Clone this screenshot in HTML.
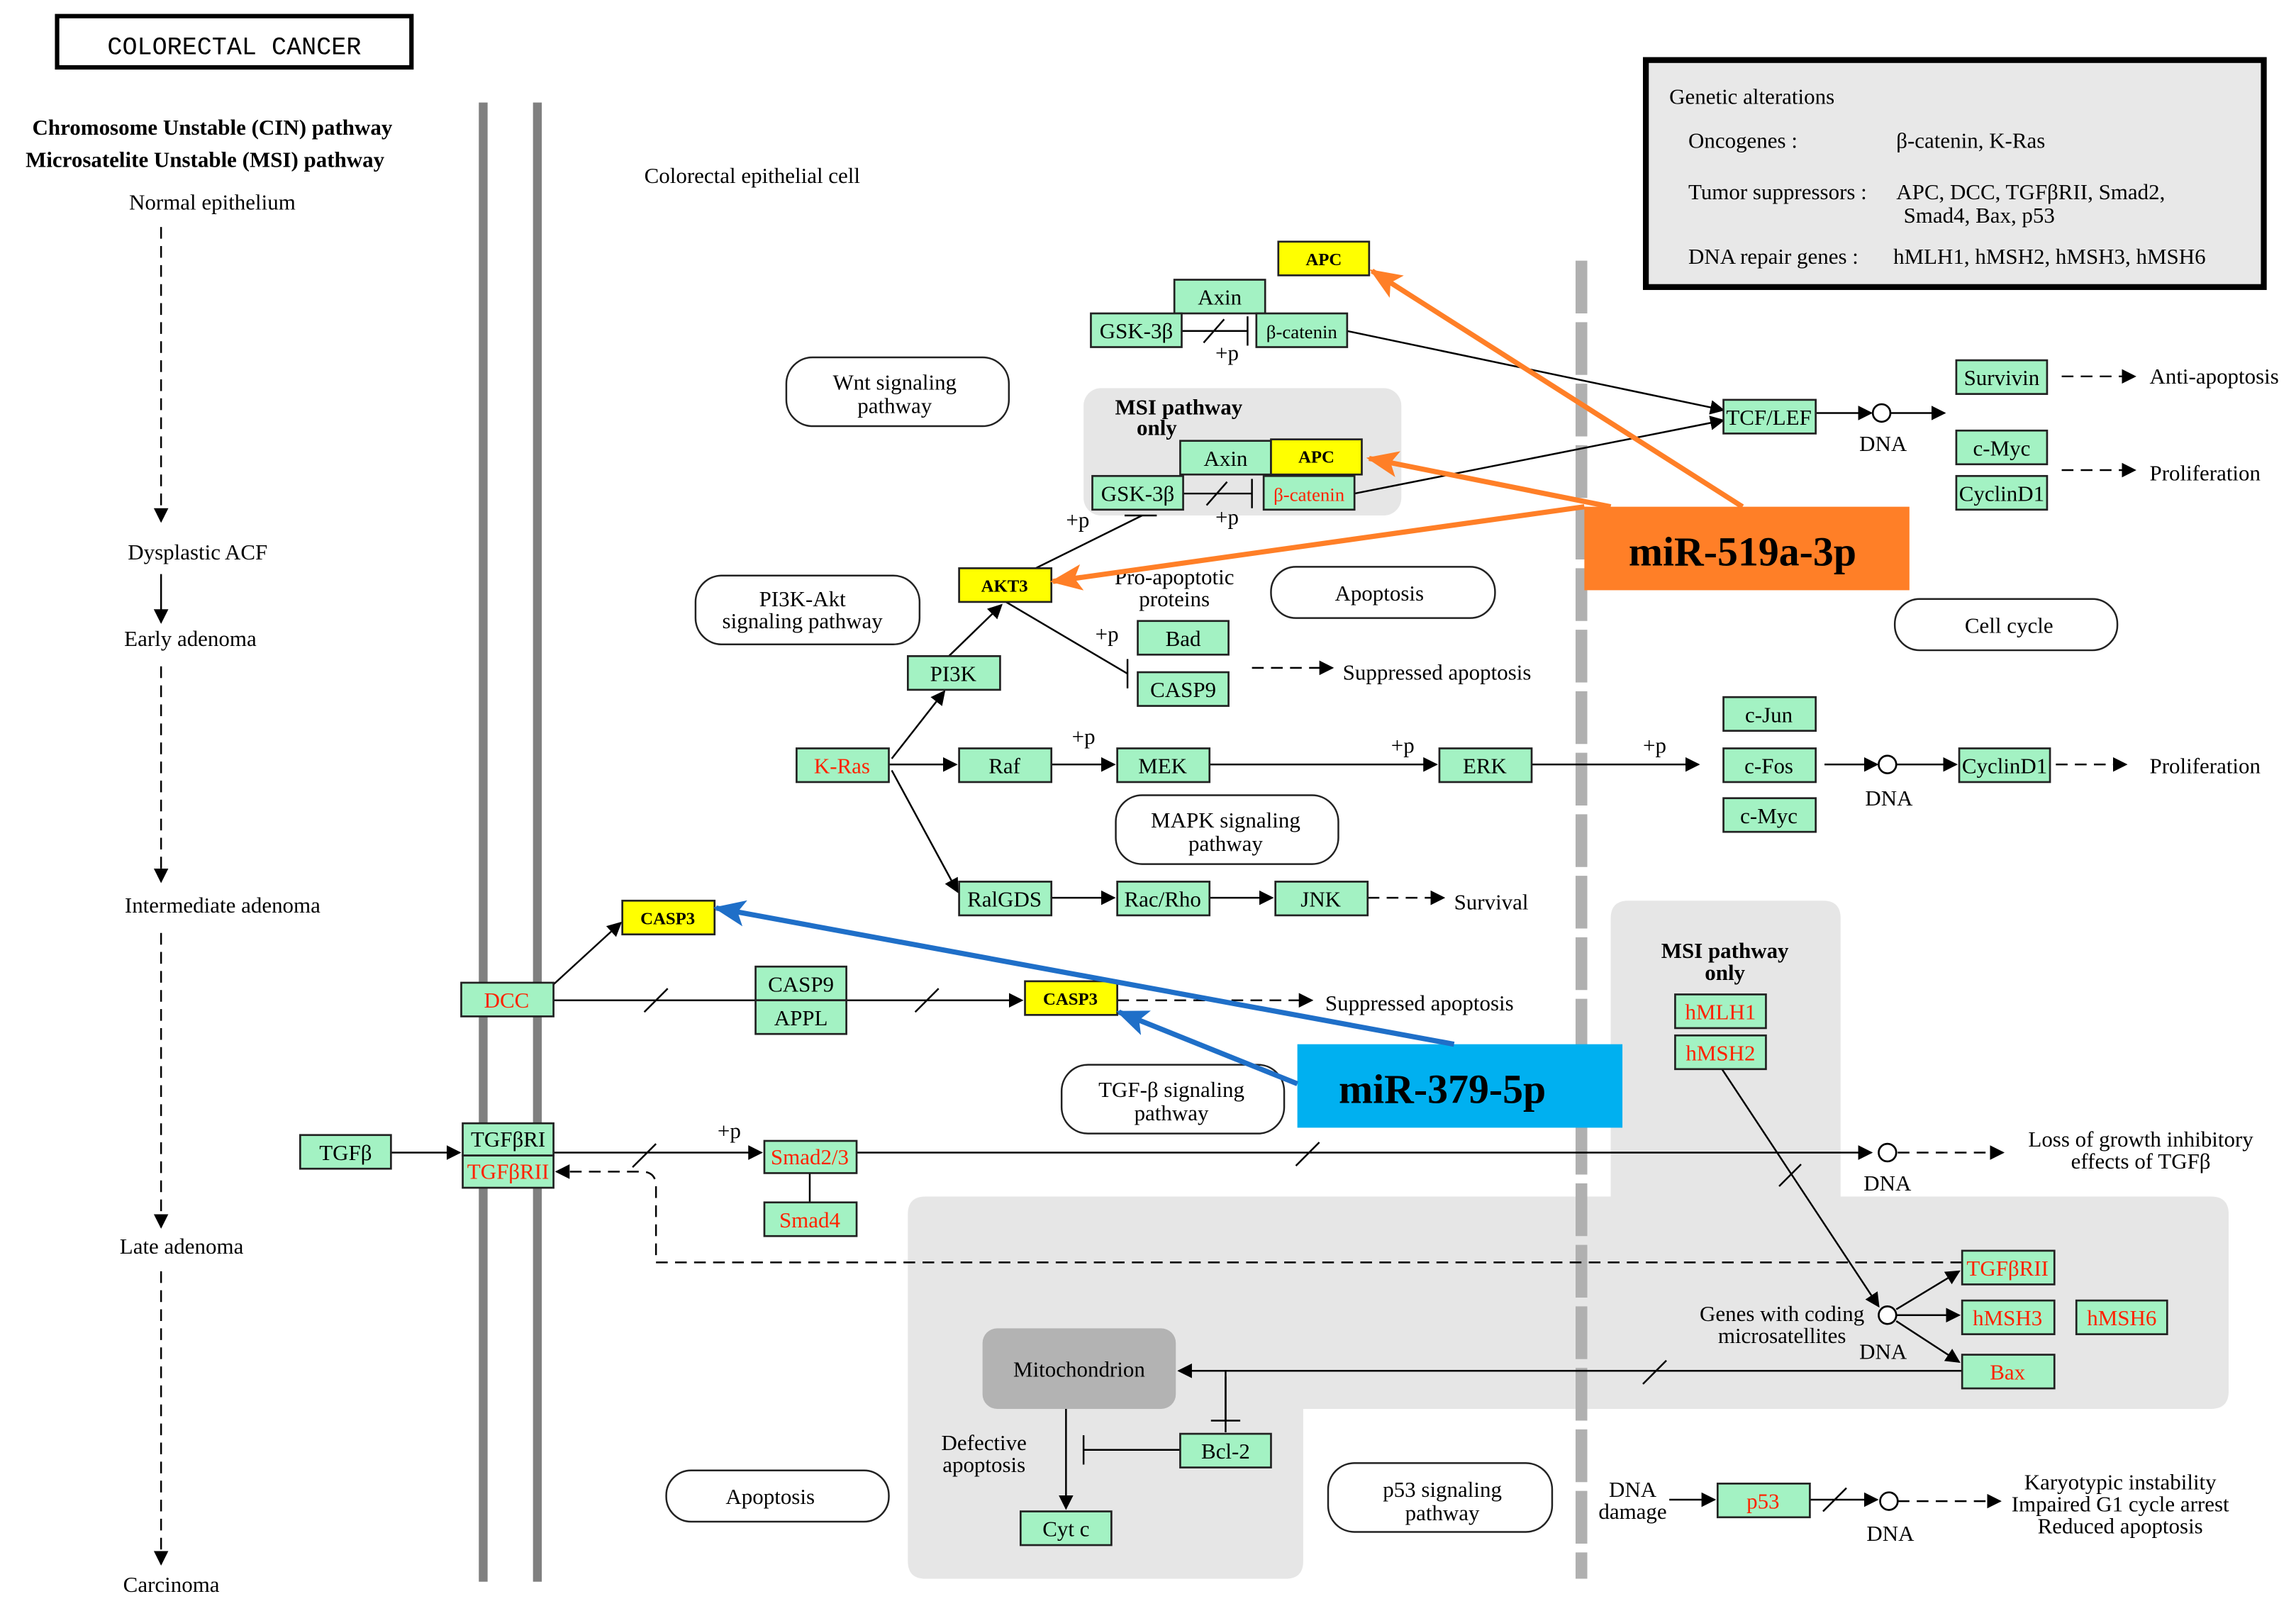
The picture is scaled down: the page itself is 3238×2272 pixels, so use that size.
<!DOCTYPE html>
<html><head><meta charset="utf-8"><style>
html,body{margin:0;padding:0;background:#fff}
svg{display:block}
text{font-family:"Liberation Serif",serif;font-size:15px;fill:#000}
.n{fill:#a3f2c3;stroke:#222;stroke-width:1.3}
.y{fill:#ffff00;stroke:#222;stroke-width:1.3}
.t{text-anchor:middle}
.r{fill:#ff2200}
.b{font-weight:bold}
.p{fill:#fff;stroke:#222;stroke-width:1.2}
.l{stroke:#000;stroke-width:1.2;fill:none}
.d{stroke:#000;stroke-width:1.2;fill:none;stroke-dasharray:8 5}
</style></head><body>
<svg width="3238" height="2272" viewBox="0 0 1568 1100" preserveAspectRatio="none" xmlns="http://www.w3.org/2000/svg">
<defs>
<marker id="a" markerWidth="10" markerHeight="10" refX="9" refY="5" orient="auto" markerUnits="userSpaceOnUse"><path d="M0,0 L10,5 L0,10 z" fill="#000"/></marker>
<marker id="o" markerWidth="22" markerHeight="22" refX="20" refY="11" orient="auto" markerUnits="userSpaceOnUse"><path d="M0,2 L22,11 L0,20 L5,11 z" fill="#ff7f27"/></marker>
<marker id="bl" markerWidth="22" markerHeight="22" refX="20" refY="11" orient="auto" markerUnits="userSpaceOnUse"><path d="M0,2 L22,11 L0,20 L5,11 z" fill="#1f6fc8"/></marker>
</defs>
<!-- gray regions -->
<rect x="740" y="265" width="217" height="87" rx="12" fill="#e6e6e6"/>
<path d="M1112,615 H1245 Q1257,615 1257,627 V817 H1510 Q1522,817 1522,829 V950 Q1522,962 1510,962 H890 V1066 Q890,1078 878,1078 H632 Q620,1078 620,1066 V829 Q620,817 632,817 H1100 V627 Q1100,615 1112,615 z" fill="#e6e6e6"/>
<!-- title -->
<rect x="39" y="11" width="242" height="35" fill="#fff" stroke="#000" stroke-width="3"/>
<text x="160" y="37" class="t" style="font-family:'Liberation Mono',monospace;font-size:17px">COLORECTAL CANCER</text>
<!-- legend box -->
<rect x="1124" y="41" width="422" height="155" fill="#e8e8e8" stroke="#000" stroke-width="4"/>
<text x="1140" y="71">Genetic alterations</text>
<text x="1153" y="101">Oncogenes :</text><text x="1295" y="101">β-catenin, K-Ras</text>
<text x="1153" y="136">Tumor suppressors :</text><text x="1295" y="136">APC, DCC, TGFβRII, Smad2,</text><text x="1300" y="152">Smad4, Bax, p53</text>
<text x="1153" y="180">DNA repair genes :</text><text x="1293" y="180">hMLH1, hMSH2, hMSH3, hMSH6</text>
<!-- left column -->
<text x="145" y="92" class="t b">Chromosome Unstable (CIN) pathway</text>
<text x="140" y="114" class="t b">Microsatelite Unstable (MSI) pathway</text>
<text x="145" y="143" class="t">Normal epithelium</text>
<line x1="110" y1="155" x2="110" y2="356" class="d" marker-end="url(#a)"/>
<text x="135" y="382" class="t">Dysplastic ACF</text>
<line x1="110" y1="392" x2="110" y2="425" class="l" marker-end="url(#a)"/>
<text x="130" y="441" class="t">Early adenoma</text>
<line x1="110" y1="455" x2="110" y2="602" class="d" marker-end="url(#a)"/>
<text x="152" y="623" class="t">Intermediate adenoma</text>
<line x1="110" y1="637" x2="110" y2="838" class="d" marker-end="url(#a)"/>
<text x="124" y="856" class="t">Late adenoma</text>
<line x1="110" y1="868" x2="110" y2="1068" class="d" marker-end="url(#a)"/>
<text x="117" y="1087" class="t">Carcinoma</text>
<!-- membranes -->
<rect x="327" y="70" width="6" height="1010" fill="#808080"/>
<rect x="364" y="70" width="6" height="1010" fill="#808080"/>
<line x1="1080" y1="178" x2="1080" y2="1078" stroke="#b0b0b0" stroke-width="8" stroke-dasharray="36 6"/>
<text x="440" y="125">Colorectal epithelial cell</text>
<!-- pathway boxes -->
<rect x="537" y="244" width="152" height="47" rx="18" class="p"/><text x="611" y="266" class="t">Wnt signaling</text><text x="611" y="282" class="t">pathway</text>
<rect x="475" y="393" width="153" height="47" rx="18" class="p"/><text x="548" y="414" class="t">PI3K-Akt</text><text x="548" y="429" class="t">signaling pathway</text>
<rect x="868" y="387" width="153" height="35" rx="17" class="p"/><text x="942" y="410" class="t">Apoptosis</text>
<rect x="1294" y="409" width="152" height="35" rx="17" class="p"/><text x="1372" y="432" class="t">Cell cycle</text>
<rect x="762" y="543" width="152" height="47" rx="18" class="p"/><text x="837" y="565" class="t">MAPK signaling</text><text x="837" y="581" class="t">pathway</text>
<rect x="725" y="727" width="152" height="47" rx="18" class="p"/><text x="800" y="749" class="t">TGF-β signaling</text><text x="800" y="765" class="t">pathway</text>
<rect x="455" y="1004" width="152" height="35" rx="17" class="p"/><text x="526" y="1027" class="t">Apoptosis</text>
<rect x="907" y="999" width="153" height="47" rx="18" class="p"/><text x="985" y="1022" class="t">p53 signaling</text><text x="985" y="1038" class="t">pathway</text>
<!-- Mitochondrion -->
<rect x="671" y="907" width="132" height="55" rx="10" fill="#b3b3b3"/><text x="737" y="940" class="t">Mitochondrion</text>
<!-- connectors -->
<line x1="920" y1="226" x2="1177" y2="280" class="l" marker-end="url(#a)"/>
<line x1="925" y1="337" x2="1177" y2="287" class="l" marker-end="url(#a)"/>
<line x1="807" y1="226" x2="852" y2="226" class="l"/><line x1="852" y1="216" x2="852" y2="236" class="l"/><line x1="822" y1="234" x2="836" y2="218" class="l"/>
<text x="830" y="246">+p</text>
<line x1="808" y1="337" x2="855" y2="337" class="l"/><line x1="855" y1="327" x2="855" y2="347" class="l"/><line x1="824" y1="345" x2="838" y2="329" class="l"/>
<text x="830" y="358">+p</text>
<line x1="1240" y1="282" x2="1278" y2="282" class="l" marker-end="url(#a)"/>
<circle cx="1285" cy="282" r="6" fill="#fff" stroke="#000" stroke-width="1.3"/>
<line x1="1291" y1="282" x2="1328" y2="282" class="l" marker-end="url(#a)"/>
<text x="1286" y="308" class="t">DNA</text>
<line x1="1408" y1="257" x2="1458" y2="257" class="d" marker-end="url(#a)"/><text x="1468" y="262">Anti-apoptosis</text>
<line x1="1408" y1="321" x2="1458" y2="321" class="d" marker-end="url(#a)"/><text x="1468" y="328">Proliferation</text>
<text x="805" y="283" class="t b">MSI pathway</text><text x="790" y="297" class="t b">only</text>
<!-- PI3K/AKT -->
<line x1="685" y1="399" x2="780" y2="352" class="l"/><line x1="768" y1="352" x2="790" y2="352" class="l"/>
<text x="728" y="360">+p</text>
<line x1="687" y1="411" x2="770" y2="460" class="l"/><line x1="770" y1="450" x2="770" y2="470" class="l"/>
<text x="748" y="438">+p</text>
<text x="802" y="399" class="t">Pro-apoptotic</text><text x="802" y="414" class="t">proteins</text>
<line x1="855" y1="456" x2="910" y2="456" class="d" marker-end="url(#a)"/><text x="917" y="464">Suppressed apoptosis</text>
<line x1="648" y1="448" x2="684" y2="413" class="l" marker-end="url(#a)"/>
<line x1="609" y1="518" x2="645" y2="472" class="l" marker-end="url(#a)"/>
<line x1="607" y1="522" x2="653" y2="522" class="l" marker-end="url(#a)"/>
<line x1="609" y1="526" x2="654" y2="609" class="l" marker-end="url(#a)"/>
<line x1="718" y1="522" x2="761" y2="522" class="l" marker-end="url(#a)"/><text x="732" y="508">+p</text>
<line x1="826" y1="522" x2="981" y2="522" class="l" marker-end="url(#a)"/><text x="950" y="514">+p</text>
<line x1="1046" y1="522" x2="1160" y2="522" class="l" marker-end="url(#a)"/><text x="1122" y="514">+p</text>
<line x1="1246" y1="522" x2="1282" y2="522" class="l" marker-end="url(#a)"/>
<circle cx="1289" cy="522" r="6" fill="#fff" stroke="#000" stroke-width="1.3"/>
<line x1="1295" y1="522" x2="1336" y2="522" class="l" marker-end="url(#a)"/>
<text x="1290" y="550" class="t">DNA</text>
<line x1="1404" y1="522" x2="1452" y2="522" class="d" marker-end="url(#a)"/><text x="1468" y="528">Proliferation</text>
<line x1="718" y1="613" x2="761" y2="613" class="l" marker-end="url(#a)"/>
<line x1="826" y1="613" x2="869" y2="613" class="l" marker-end="url(#a)"/>
<line x1="934" y1="613" x2="986" y2="613" class="d" marker-end="url(#a)"/><text x="993" y="621">Survival</text>
<!-- DCC -->
<line x1="376" y1="674" x2="424" y2="630" class="l" marker-end="url(#a)"/>
<line x1="378" y1="683" x2="516" y2="683" class="l"/><line x1="440" y1="691" x2="456" y2="675" class="l"/>
<line x1="578" y1="683" x2="698" y2="683" class="l" marker-end="url(#a)"/><line x1="625" y1="691" x2="641" y2="675" class="l"/>
<line x1="763" y1="683" x2="896" y2="683" class="d" marker-end="url(#a)"/><text x="905" y="690">Suppressed apoptosis</text>
<!-- TGF -->
<line x1="267" y1="787" x2="314" y2="787" class="l" marker-end="url(#a)"/>
<line x1="378" y1="787" x2="520" y2="787" class="l" marker-end="url(#a)"/><line x1="432" y1="797" x2="448" y2="781" class="l"/>
<text x="490" y="777">+p</text>
<line x1="553" y1="801" x2="553" y2="821" class="l"/>
<line x1="585" y1="787" x2="1278" y2="787" class="l" marker-end="url(#a)"/><line x1="885" y1="796" x2="901" y2="780" class="l"/>
<circle cx="1289" cy="787" r="6" fill="#fff" stroke="#000" stroke-width="1.3"/>
<line x1="1296" y1="787" x2="1368" y2="787" class="d" marker-end="url(#a)"/>
<text x="1289" y="813" class="t">DNA</text>
<text x="1462" y="783" class="t">Loss of growth inhibitory</text><text x="1462" y="798" class="t">effects of TGFβ</text>
<path d="M1340,862 H448 V810 Q448,800 438,800 H380" class="d" marker-end="url(#a)"/>
<text x="1178" y="654" class="t b">MSI pathway</text><text x="1178" y="669" class="t b">only</text>
<line x1="1176" y1="730" x2="1283" y2="892" class="l" marker-end="url(#a)"/><line x1="1215" y1="810" x2="1230" y2="795" class="l"/>
<circle cx="1289" cy="898" r="6" fill="#fff" stroke="#000" stroke-width="1.3"/>
<line x1="1295" y1="894" x2="1338" y2="868" class="l" marker-end="url(#a)"/>
<line x1="1295" y1="898" x2="1338" y2="898" class="l" marker-end="url(#a)"/>
<line x1="1295" y1="902" x2="1338" y2="930" class="l" marker-end="url(#a)"/>
<text x="1217" y="902" class="t">Genes with coding</text><text x="1217" y="917" class="t">microsatellites</text>
<text x="1286" y="928" class="t">DNA</text>
<line x1="1340" y1="936" x2="805" y2="936" class="l" marker-end="url(#a)"/><line x1="1122" y1="945" x2="1138" y2="929" class="l"/>
<path d="M837,936 V970 M827,970 H847" class="l"/><line x1="837" y1="940" x2="837" y2="978" class="l"/>
<line x1="806" y1="990" x2="740" y2="990" class="l"/><line x1="740" y1="980" x2="740" y2="1000" class="l"/>
<text x="672" y="990" class="t">Defective</text><text x="672" y="1005" class="t">apoptosis</text>
<line x1="728" y1="962" x2="728" y2="1030" class="l" marker-end="url(#a)"/>
<text x="1115" y="1022" class="t">DNA</text><text x="1115" y="1037" class="t">damage</text>
<line x1="1140" y1="1024" x2="1171" y2="1024" class="l" marker-end="url(#a)"/>
<line x1="1236" y1="1024" x2="1282" y2="1024" class="l" marker-end="url(#a)"/><line x1="1245" y1="1032" x2="1261" y2="1016" class="l"/>
<circle cx="1290" cy="1025" r="6" fill="#fff" stroke="#000" stroke-width="1.3"/>
<line x1="1296" y1="1025" x2="1366" y2="1025" class="d" marker-end="url(#a)"/>
<text x="1291" y="1052" class="t">DNA</text>
<text x="1448" y="1017" class="t">Karyotypic instability</text><text x="1448" y="1032" class="t">Impaired G1 cycle arrest</text><text x="1448" y="1047" class="t">Reduced apoptosis</text>
<!-- nodes -->
<g>
<rect x="873" y="165" width="62" height="23" class="y"/><text x="904" y="181" class="t b" style="font-size:12px">APC</text>
<rect x="802" y="191" width="62" height="23" class="n"/><text x="833" y="208" class="t">Axin</text>
<rect x="745" y="214" width="62" height="23" class="n"/><text x="776" y="231" class="t">GSK-3β</text>
<rect x="858" y="214" width="62" height="23" class="n"/><text x="889" y="231" class="t" style="font-size:13px">β-catenin</text>
<rect x="1336" y="246" width="62" height="23" class="n"/><text x="1367" y="263" class="t">Survivin</text>
<rect x="1336" y="294" width="62" height="23" class="n"/><text x="1367" y="311" class="t">c-Myc</text>
<rect x="1336" y="325" width="62" height="23" class="n"/><text x="1367" y="342" class="t">CyclinD1</text>
<rect x="1177" y="273" width="63" height="23" class="n"/><text x="1208" y="290" class="t">TCF/LEF</text>
<rect x="806" y="301" width="62" height="23" class="n"/><text x="837" y="318" class="t">Axin</text>
<rect x="868" y="300" width="62" height="24" class="y"/><text x="899" y="316" class="t b" style="font-size:12px">APC</text>
<rect x="746" y="325" width="62" height="23" class="n"/><text x="777" y="342" class="t">GSK-3β</text>
<rect x="863" y="325" width="62" height="23" class="n"/><text x="894" y="342" class="t r" style="font-size:13px">β-catenin</text>
<rect x="655" y="388" width="63" height="23" class="y"/><text x="686" y="404" class="t b" style="font-size:12px">AKT3</text>
<rect x="777" y="424" width="62" height="23" class="n"/><text x="808" y="441" class="t">Bad</text>
<rect x="777" y="459" width="62" height="23" class="n"/><text x="808" y="476" class="t">CASP9</text>
<rect x="620" y="448" width="63" height="23" class="n"/><text x="651" y="465" class="t">PI3K</text>
<rect x="544" y="511" width="63" height="23" class="n"/><text x="575" y="528" class="t r">K-Ras</text>
<rect x="655" y="511" width="63" height="23" class="n"/><text x="686" y="528" class="t">Raf</text>
<rect x="763" y="511" width="63" height="23" class="n"/><text x="794" y="528" class="t">MEK</text>
<rect x="983" y="511" width="63" height="23" class="n"/><text x="1014" y="528" class="t">ERK</text>
<rect x="1177" y="476" width="63" height="23" class="n"/><text x="1208" y="493" class="t">c-Jun</text>
<rect x="1177" y="511" width="63" height="23" class="n"/><text x="1208" y="528" class="t">c-Fos</text>
<rect x="1177" y="545" width="63" height="23" class="n"/><text x="1208" y="562" class="t">c-Myc</text>
<rect x="1338" y="511" width="62" height="23" class="n"/><text x="1369" y="528" class="t">CyclinD1</text>
<rect x="655" y="602" width="63" height="23" class="n"/><text x="686" y="619" class="t">RalGDS</text>
<rect x="763" y="602" width="63" height="23" class="n"/><text x="794" y="619" class="t">Rac/Rho</text>
<rect x="871" y="602" width="63" height="23" class="n"/><text x="902" y="619" class="t">JNK</text>
<rect x="425" y="615" width="63" height="23" class="y"/><text x="456" y="631" class="t b" style="font-size:12px">CASP3</text>
<rect x="315" y="671" width="63" height="23" class="n"/><text x="346" y="688" class="t r">DCC</text>
<rect x="516" y="660" width="62" height="23" class="n"/><text x="547" y="677" class="t">CASP9</text>
<rect x="516" y="683" width="62" height="23" class="n"/><text x="547" y="700" class="t">APPL</text>
<rect x="700" y="670" width="63" height="23" class="y"/><text x="731" y="686" class="t b" style="font-size:12px">CASP3</text>
<rect x="1144" y="679" width="62" height="23" class="n"/><text x="1175" y="696" class="t r">hMLH1</text>
<rect x="1144" y="707" width="62" height="23" class="n"/><text x="1175" y="724" class="t r">hMSH2</text>
<rect x="205" y="775" width="62" height="23" class="n"/><text x="236" y="792" class="t">TGFβ</text>
<rect x="316" y="767" width="62" height="22" class="n"/><text x="347" y="783" class="t">TGFβRI</text>
<rect x="316" y="789" width="62" height="22" class="n"/><text x="347" y="805" class="t r">TGFβRII</text>
<rect x="522" y="779" width="63" height="22" class="n"/><text x="553" y="795" class="t r">Smad2/3</text>
<rect x="522" y="821" width="63" height="23" class="n"/><text x="553" y="838" class="t r">Smad4</text>
<rect x="1340" y="854" width="63" height="23" class="n"/><text x="1371" y="871" class="t r">TGFβRII</text>
<rect x="1340" y="888" width="63" height="23" class="n"/><text x="1371" y="905" class="t r">hMSH3</text>
<rect x="1418" y="888" width="62" height="23" class="n"/><text x="1449" y="905" class="t r">hMSH6</text>
<rect x="1340" y="925" width="63" height="23" class="n"/><text x="1371" y="942" class="t r">Bax</text>
<rect x="806" y="979" width="62" height="23" class="n"/><text x="837" y="996" class="t">Bcl-2</text>
<rect x="697" y="1032" width="62" height="23" class="n"/><text x="728" y="1049" class="t">Cyt c</text>
<rect x="1173" y="1013" width="63" height="23" class="n"/><text x="1204" y="1030" class="t r">p53</text>
</g>
<!-- miRNA -->
<rect x="1082" y="346" width="222" height="57" fill="#ff7f27"/>
<text x="1190" y="386" class="t b" style="font-size:28px">miR-519a-3p</text>
<line x1="1190" y1="346" x2="937" y2="185" stroke="#ff7f27" stroke-width="3.5" marker-end="url(#o)"/>
<line x1="1100" y1="346" x2="935" y2="313" stroke="#ff7f27" stroke-width="3.5" marker-end="url(#o)"/>
<line x1="1082" y1="346" x2="719" y2="397" stroke="#ff7f27" stroke-width="3.5" marker-end="url(#o)"/>
<rect x="886" y="713" width="222" height="57" fill="#00b0f0"/>
<text x="985" y="753" class="t b" style="font-size:28px">miR-379-5p</text>
<line x1="993" y1="713" x2="489" y2="620" stroke="#1f6fc8" stroke-width="3.5" marker-end="url(#bl)"/>
<line x1="886" y1="740" x2="764" y2="691" stroke="#1f6fc8" stroke-width="3.5" marker-end="url(#bl)"/>
</svg>
</body></html>
